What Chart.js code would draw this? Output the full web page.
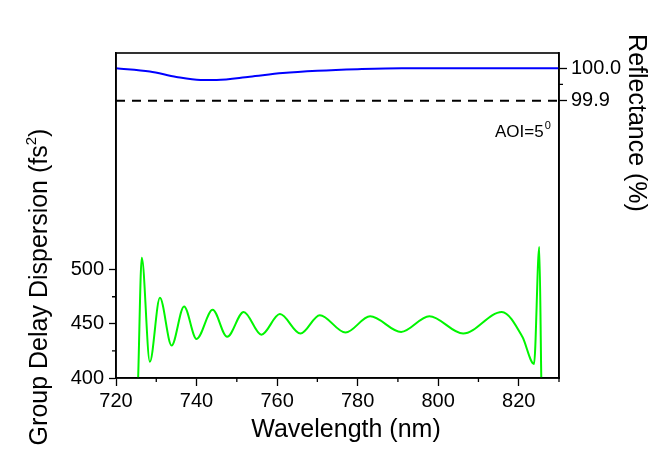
<!DOCTYPE html>
<html>
<head>
<meta charset="utf-8">
<script src="https://cdn.jsdelivr.net/npm/chart.js@4.4.0/dist/chart.umd.min.js"></script>
<style>
  html, body { margin: 0; padding: 0; background: #fff; }
  canvas { display: block; }
</style>
</head>
<body>
<canvas id="gddChart" width="650" height="454"></canvas>
<script>
// values
const gddWavelength = [725.5, 726.4, 728.4, 730.9, 733.8, 736.9, 740.0, 744.0, 747.6, 751.7, 756.1, 760.7, 765.8,
  770.6, 777.0, 783.1, 790.8, 797.8, 806.2, 815.8, 820.9, 823.8, 825.1, 825.6];
const gddValues = [400, 511, 415, 474, 430, 466, 436, 463, 438, 461, 440, 459, 441,
  458, 442, 457, 442.5, 457, 441, 461, 438, 413, 521, 400];

const reflWavelength = [720, 728.4, 735, 741, 745, 753.2, 761.4, 770, 780, 791, 830];
const reflValues = [100.0, 99.990, 99.973, 99.964, 99.964, 99.974, 99.985, 99.992, 99.997, 100.0, 100.0];

const thresholdWavelength = [720, 830];
const thresholdValues = [99.9, 99.9];

const xTicks = [720, 740, 760, 780, 800, 820];
const xMinorTicks = [730, 750, 770, 790, 810, 830];
const gddTicks = [400, 450, 500];
const gddMinorTicks = [425, 475];
const reflTicks = [99.9, 100.0];
const reflMinorTicks = [99.95];

const FONT = "'Liberation Sans', Arial, sans-serif";

const toPoints = (xs, ys) => xs.map((x, i) => ({ x: x, y: ys[i] }));

const extras = {
  id: 'extras',
  afterDraw(chart) {
    const ctx = chart.ctx;
    const a = chart.chartArea;
    const sx = chart.scales.x, sy = chart.scales.y, sr = chart.scales.y1;
    ctx.save();
    ctx.strokeStyle = '#000';
    ctx.lineWidth = 1.6;
    ctx.strokeRect(a.left, a.top, a.right - a.left, a.bottom - a.top);

    // minor ticks
    ctx.lineWidth = 1.3;
    ctx.beginPath();
    xMinorTicks.forEach(v => {
      const px = sx.getPixelForValue(v);
      ctx.moveTo(px, a.bottom); ctx.lineTo(px, a.bottom + 4);
    });
    gddMinorTicks.forEach(v => {
      const py = sy.getPixelForValue(v);
      ctx.moveTo(a.left, py); ctx.lineTo(a.left - 4, py);
    });
    reflMinorTicks.forEach(v => {
      const py = sr.getPixelForValue(v);
      ctx.moveTo(a.right, py); ctx.lineTo(a.right + 4, py);
    });
    ctx.stroke();

    ctx.fillStyle = '#000';
    // x title
    ctx.font = '25px ' + FONT;
    ctx.textAlign = 'center';
    ctx.textBaseline = 'middle';
    ctx.fillText('Wavelength (nm)', 346, 430);

    // left title with superscript
    ctx.save();
    ctx.translate(38, 287);
    ctx.rotate(-Math.PI / 2);
    const main = 'Group Delay Dispersion (fs';
    ctx.font = '25px ' + FONT;
    const w1 = ctx.measureText(main).width;
    ctx.font = '15px ' + FONT;
    const w2 = ctx.measureText('2').width;
    ctx.font = '25px ' + FONT;
    const w3 = ctx.measureText(')').width;
    let x0 = -(w1 + w2 + w3) / 2;
    ctx.textAlign = 'left';
    ctx.textBaseline = 'alphabetic';
    ctx.fillText(main, x0, 9);
    ctx.font = '15px ' + FONT;
    ctx.fillText('2', x0 + w1, -2);
    ctx.font = '25px ' + FONT;
    ctx.fillText(')', x0 + w1 + w2, 9);
    ctx.restore();

    // right title
    ctx.save();
    ctx.translate(636, 123);
    ctx.rotate(Math.PI / 2);
    ctx.font = '25px ' + FONT;
    ctx.textAlign = 'center';
    ctx.textBaseline = 'middle';
    ctx.fillText('Reflectance (%)', 0, 0);
    ctx.restore();

    // angle of incidence label
    ctx.font = '17px ' + FONT;
    ctx.textAlign = 'left';
    ctx.textBaseline = 'alphabetic';
    const aoi = 'AOI=5';
    ctx.fillText(aoi, 495, 137);
    const aw = ctx.measureText(aoi).width;
    ctx.font = '11px ' + FONT;
    ctx.fillText('0', 495 + aw + 1, 129);
    ctx.restore();
  }
};

new Chart(document.getElementById('gddChart'), {
  type: 'line',
  data: {
    datasets: [
      {
        label: 'GDD',
        data: toPoints(gddWavelength, gddValues),
        yAxisID: 'y',
        borderColor: 'rgb(0, 245, 0)',
        borderWidth: 2,
        pointRadius: 0,
        cubicInterpolationMode: 'monotone'
      },
      {
        label: 'Reflectance',
        data: toPoints(reflWavelength, reflValues),
        yAxisID: 'y1',
        borderColor: 'rgb(0, 0, 255)',
        borderWidth: 2,
        pointRadius: 0,
        cubicInterpolationMode: 'monotone'
      },
      {
        label: '99.9 %',
        data: toPoints(thresholdWavelength, thresholdValues),
        yAxisID: 'y1',
        borderColor: '#000',
        borderWidth: 2,
        borderDash: [9, 7],
        pointRadius: 0
      }
    ]
  },
  options: {
    responsive: false,
    animation: false,
    layout: { padding: { top: 53, left: 0, right: 0, bottom: 0 } },
    plugins: {
      legend: { display: false },
      tooltip: { enabled: false }
    },
    scales: {
      x: {
        type: 'linear',
        min: 720,
        max: 830,
        afterBuildTicks: s => { s.ticks = xTicks.map(v => ({ value: v })); },
        afterFit: s => { s.height = 76; },
        grid: { drawOnChartArea: false, tickLength: 8, tickColor: '#000', tickWidth: 1.3 },
        border: { color: '#000', width: 1.6 },
        ticks: { color: '#000', font: { family: FONT, size: 20 }, padding: 3, maxRotation: 0 }
      },
      y: {
        type: 'linear',
        position: 'left',
        min: 400,
        max: 700,
        afterBuildTicks: s => { s.ticks = gddTicks.map(v => ({ value: v })); },
        afterFit: s => { s.width = 116; },
        grid: { drawOnChartArea: false, tickLength: 7, tickColor: '#000', tickWidth: 1.3 },
        border: { color: '#000', width: 1.6 },
        ticks: { color: '#000', font: { family: FONT, size: 20 }, padding: 5 }
      },
      y1: {
        type: 'linear',
        position: 'right',
        min: 99.044,
        max: 100.047,
        afterBuildTicks: s => { s.ticks = reflTicks.map(v => ({ value: v })); },
        afterFit: s => { s.width = 91; },
        grid: { drawOnChartArea: false, tickLength: 8, tickColor: '#000', tickWidth: 1.3 },
        border: { color: '#000', width: 1.6 },
        ticks: {
          color: '#000',
          font: { family: FONT, size: 20 },
          padding: 4,
          callback: v => Number(v).toFixed(1)
        }
      }
    }
  },
  plugins: [extras]
});
</script>
</body>
</html>
